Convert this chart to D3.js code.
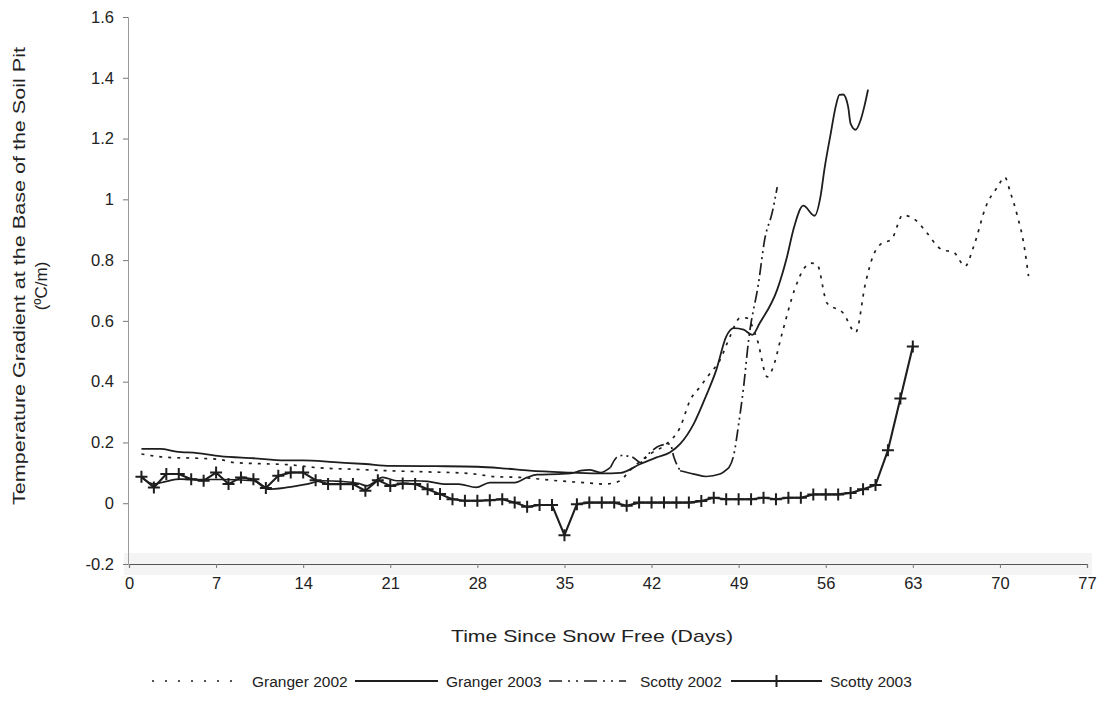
<!DOCTYPE html>
<html>
<head>
<meta charset="utf-8">
<script src="https://cdn.jsdelivr.net/npm/d3@7"></script>
<style>
  body { margin: 0; background: #fff; }
  svg { font-family: "Liberation Sans", Arial, sans-serif; }
  .tick text { font-size: 16.5px; fill: #222; }
</style>
</head>
<body>
<svg id="chart" width="1108" height="710" viewBox="0 0 1108 710"></svg>
<script>
// ── data: [day, gradient °C/m] ──────────────────────────────────────────────
const granger2002 = [
  [1, 0.162], [3, 0.151], [5.5, 0.148], [7.3, 0.144], [8.4, 0.134], [10.5, 0.13],
  [12.7, 0.127], [15.4, 0.116], [18, 0.112], [20.7, 0.107], [24, 0.103], [27.3, 0.098],
  [29.6, 0.087], [31.4, 0.085], [34.4, 0.074], [36.5, 0.068], [38.2, 0.063], [39.5, 0.074],
  [40.1, 0.101], [41, 0.135], [42, 0.165], [43.2, 0.195], [44.3, 0.25], [45.1, 0.339],
  [45.9, 0.383], [46.7, 0.427], [47.5, 0.471], [48.3, 0.548], [49.1, 0.609], [49.6, 0.61],
  [50.5, 0.537], [51.3, 0.416], [51.7, 0.44], [52.5, 0.56], [53.5, 0.703], [54.3, 0.775],
  [54.8, 0.79], [55.3, 0.786], [56.1, 0.659], [57.4, 0.626], [58.4, 0.562], [59.2, 0.725],
  [59.8, 0.813], [60.4, 0.852], [61.3, 0.869], [62.2, 0.948], [63.3, 0.929], [64.1, 0.891],
  [65.3, 0.835], [66.3, 0.825], [67.2, 0.78], [67.9, 0.846], [68.9, 0.979], [69.8, 1.04],
  [70.4, 1.073], [70.8, 1.028], [71.4, 0.946], [71.9, 0.858], [72.3, 0.747]
];

const granger2003 = [
  [1, 0.179], [2.5, 0.179], [3.8, 0.17], [5.5, 0.165], [7.3, 0.155], [10, 0.148],
  [12.5, 0.141], [14, 0.141], [16.5, 0.135], [19, 0.129], [21, 0.123], [24.7, 0.122],
  [28, 0.12], [30, 0.115], [32.2, 0.107], [35.5, 0.101], [38, 0.098], [39.5, 0.1],
  [41.1, 0.129], [42.4, 0.151], [43.5, 0.168], [44.3, 0.195], [45.4, 0.262], [46.4, 0.355],
  [47.2, 0.438], [48, 0.548], [48.6, 0.576], [49.4, 0.571], [50.1, 0.554], [50.7, 0.593],
  [52.1, 0.703], [52.9, 0.813], [53.4, 0.9], [54.2, 0.979], [55.1, 0.946], [55.6, 1.014],
  [55.9, 1.1], [56.4, 1.216], [56.8, 1.305], [57.1, 1.344], [57.4, 1.345], [57.8, 1.305],
  [58, 1.249], [58.4, 1.229], [58.8, 1.26], [59.1, 1.305], [59.4, 1.361]
];

const scotty2002 = [
  [1, 0.085], [2, 0.063], [3, 0.072], [4.1, 0.079], [5.5, 0.078], [7.3, 0.078],
  [10, 0.074], [11.2, 0.046], [12.7, 0.052], [14.3, 0.063], [15.6, 0.074], [17, 0.072],
  [18.5, 0.065], [19.1, 0.057], [20.4, 0.085], [21.5, 0.074], [22.9, 0.074], [24, 0.072],
  [25.3, 0.063], [26.5, 0.063], [27.9, 0.052], [29, 0.068], [31, 0.068], [32, 0.085],
  [32.8, 0.094], [34.5, 0.096], [35.5, 0.098], [36.3, 0.107], [37, 0.11], [37.9, 0.101],
  [38.7, 0.118], [39.2, 0.151], [39.6, 0.157], [40.5, 0.151], [41.1, 0.134], [41.9, 0.168],
  [42.7, 0.19], [43.5, 0.195], [43.8, 0.151], [44.3, 0.107], [45.4, 0.096], [46.4, 0.088],
  [47.5, 0.096], [48.2, 0.116], [48.6, 0.157], [49, 0.26], [49.4, 0.383], [49.8, 0.537],
  [50.6, 0.725], [51.1, 0.869], [51.7, 0.957], [52.1, 1.04]
];

// daily values, day 1 .. 63
const scotty2003 = [
  0.087, 0.052, 0.096, 0.096, 0.079, 0.074, 0.101, 0.063, 0.085, 0.079,
  0.050, 0.090, 0.101, 0.101, 0.076, 0.063, 0.063, 0.063, 0.041, 0.076,
  0.057, 0.065, 0.063, 0.046, 0.030, 0.013, 0.008, 0.008, 0.010, 0.013,
  0.002, -0.012, -0.006, -0.006, -0.105, -0.003, 0.002, 0.002, 0.002, -0.008,
  0.002, 0.002, 0.002, 0.002, 0.002, 0.007, 0.018, 0.013, 0.013, 0.013,
  0.018, 0.013, 0.018, 0.018, 0.029, 0.029, 0.029, 0.034, 0.046, 0.06,
  0.174, 0.345, 0.516
].map((v, i) => [i + 1, v]);

const xTicks = d3.range(0, 78, 7);
const yTicks = [-0.2, 0, 0.2, 0.4, 0.6, 0.8, 1, 1.2, 1.4, 1.6];

const legendItems = [
  { name: "Granger 2002", style: "g02" },
  { name: "Granger 2003", style: "g03" },
  { name: "Scotty 2002", style: "s02" },
  { name: "Scotty 2003", style: "s03" }
];

// ── styles ──────────────────────────────────────────────────────────────────
const INK = "#1e1e1e";
const STYLES = {
  g02: { dash: "3,6", legendDash: "2,11", width: 1.7 },
  g03: { dash: null, legendDash: null, width: 1.8 },
  s02: { dash: "12,4,2,4,2,4", legendDash: "13,6,2,6,2,6", width: 1.7 },
  s03: { dash: null, legendDash: null, width: 2.1 }
};
// the scanned dash-dot line reads as solid where it runs flat
const S02_SOLID_RANGES = [[0, 38.7], [44.3, 48.2]];

const svg = d3.select("#chart");
const x = d3.scaleLinear().domain([0, 77]).range([129, 1087]);
const y = d3.scaleLinear().domain([-0.2, 1.6]).range([564, 17]);

// faint scanner band along the x axis
svg.append("rect")
  .attr("x", 124).attr("y", 553)
  .attr("width", 968).attr("height", 22)
  .attr("fill", "#f4f4f4");

// y axis
const yAxis = svg.append("g")
  .attr("transform", `translate(${x(0) - 1},0)`)
  .call(d3.axisLeft(y).tickValues(yTicks).tickSize(5).tickPadding(9)
    .tickFormat((d) => String(+d.toFixed(1))));
yAxis.select(".domain").attr("stroke", "#9a9a9a");
yAxis.selectAll(".tick line").attr("stroke", "#777");

// x axis
const xAxis = svg.append("g")
  .attr("transform", `translate(0,${y(-0.2)})`)
  .call(d3.axisBottom(x).tickValues(xTicks).tickSize(4).tickPadding(9));
xAxis.select(".domain").attr("stroke", "#555").attr("stroke-width", 1.2);
xAxis.selectAll(".tick line").attr("stroke", "#777");

// axis titles
svg.append("text")
  .attr("x", 592).attr("y", 642)
  .attr("text-anchor", "middle")
  .attr("font-size", 17).attr("fill", "#222")
  .attr("textLength", 282).attr("lengthAdjust", "spacingAndGlyphs")
  .text("Time Since Snow Free (Days)");

const yTitle = svg.append("g")
  .attr("transform", "translate(25,276) rotate(-90)")
  .attr("fill", "#222").attr("font-size", 17);
yTitle.append("text")
  .attr("x", -229).attr("y", 0)
  .attr("textLength", 458).attr("lengthAdjust", "spacingAndGlyphs")
  .text("Temperature Gradient at the Base of the Soil Pit");
yTitle.append("text")
  .attr("x", -10).attr("y", 22)
  .attr("text-anchor", "middle")
  .text("(ºC/m)");

// series
const smooth = d3.line().x((d) => x(d[0])).y((d) => y(d[1])).curve(d3.curveMonotoneX);
const straight = d3.line().x((d) => x(d[0])).y((d) => y(d[1]));

function drawLine(data, key, gen, dash) {
  const s = STYLES[key];
  svg.append("path")
    .datum(data)
    .attr("d", gen)
    .attr("fill", "none")
    .attr("stroke", INK)
    .attr("stroke-width", s.width)
    .attr("stroke-linejoin", "round")
    .attr("stroke-dasharray", dash === undefined ? s.dash : dash);
}

drawLine(granger2002, "g02", smooth);

// Scotty 2002: solid where flat, dash-dot elsewhere (split at data points)
const s02Solid = (d) => S02_SOLID_RANGES.some(([a, b]) => d >= a && d <= b);
let run = [scotty2002[0]];
for (let i = 1; i < scotty2002.length; i++) {
  const p = scotty2002[i], q = scotty2002[i - 1];
  const mid = (p[0] + q[0]) / 2;
  const solidNow = s02Solid(mid);
  const solidPrev = run.length > 1 ? s02Solid((run[run.length - 1][0] + run[run.length - 2][0]) / 2) : solidNow;
  if (solidNow !== solidPrev) {
    drawLine(run, "s02", smooth, solidPrev ? null : undefined);
    run = [q];
  }
  run.push(p);
}
drawLine(run, "s02", smooth, s02Solid((run[0][0] + run[1][0]) / 2) ? null : undefined);

drawLine(granger2003, "g03", smooth);
drawLine(scotty2003, "s03", straight);

function plus(g, cx, cy, r) {
  g.append("path")
    .attr("d", `M${cx - r},${cy}H${cx + r}M${cx},${cy - r}V${cy + r}`)
    .attr("stroke", INK).attr("stroke-width", 2);
}
const marks = svg.append("g");
scotty2003.forEach((d) => plus(marks, x(d[0]), y(d[1]), 6));

// legend
const legendLines = [[152, 243], [355, 438], [549, 626], [731, 822]];
const legendText = [252, 446, 640, 830];
const legendY = 681;
legendItems.forEach((item, i) => {
  const s = STYLES[item.style];
  const [x1, x2] = legendLines[i];
  svg.append("line")
    .attr("x1", x1).attr("x2", x2)
    .attr("y1", legendY).attr("y2", legendY)
    .attr("stroke", INK).attr("stroke-width", s.width)
    .attr("stroke-dasharray", s.legendDash);
  if (item.style === "s03") plus(svg, (x1 + x2) / 2, legendY, 6);
  svg.append("text")
    .attr("x", legendText[i]).attr("y", legendY + 6)
    .attr("font-size", 15.5).attr("fill", "#222")
    .text(item.name);
});
</script>
</body>
</html>
